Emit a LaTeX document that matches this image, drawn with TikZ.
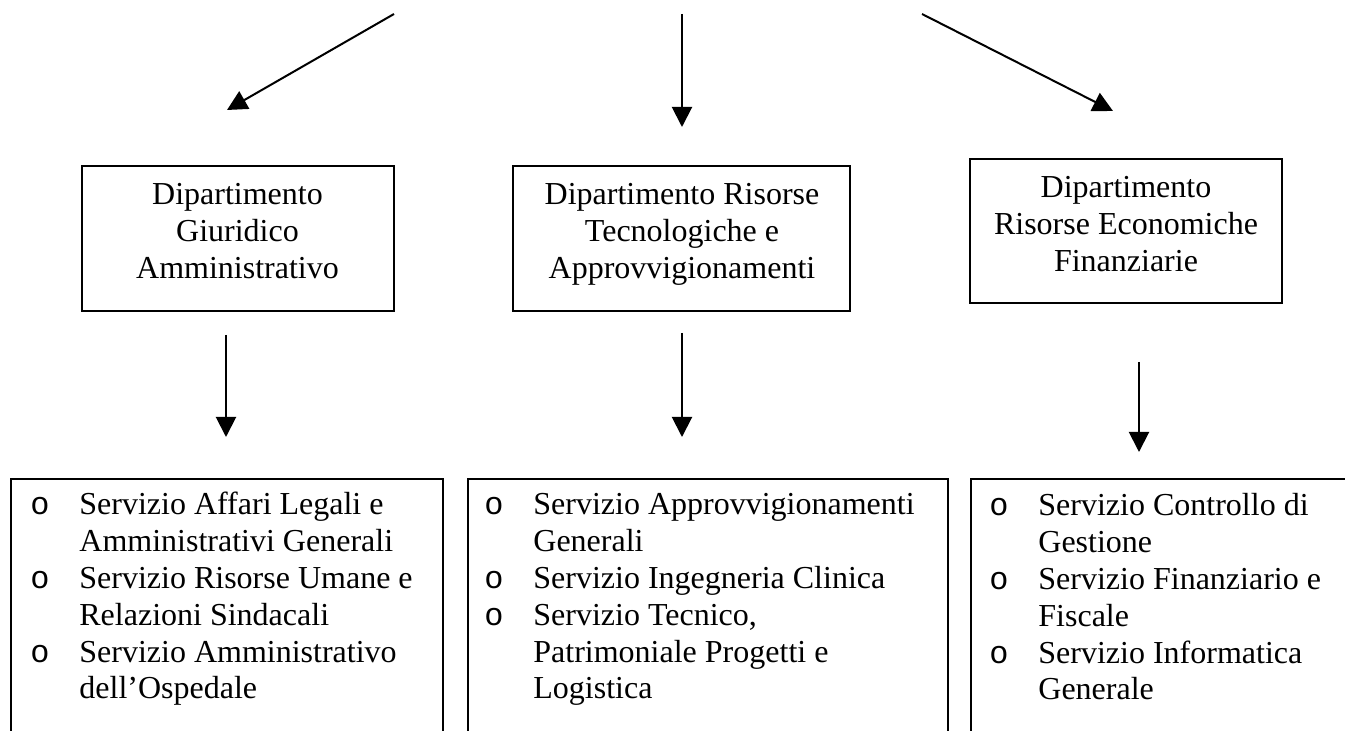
\documentclass[tikz,border=0pt]{standalone}
\usepackage{fontspec}
\setmainfont{Liberation Serif}
\newfontfamily\bulfont{Liberation Mono}
\usetikzlibrary{arrows.meta}
\tikzset{
  arr/.style={line width=1pt, -{Triangle[length=10pt,width=10pt]}},
  dbox/.style={draw, line width=1pt, rectangle, inner sep=0pt},
  lbox/.style={draw, line width=1pt, rectangle, inner sep=0pt, anchor=north west},
  txt/.style={inner sep=0pt, font=\fontsize{16pt}{18.4pt}\selectfont},
}
\newcommand\bul{\makebox[23pt][l]{\hspace*{3.25pt}\makebox[0pt]{\bulfont o}}}
\newcommand\cont{\hspace*{23pt}}
\begin{document}
\begin{tikzpicture}[x=0.5pt,y=-0.5pt]
\useasboundingbox (0,0) rectangle (1345,731);
\clip (0,0) rectangle (1345,731);
% department boxes
\node[dbox, minimum width=312*0.5pt, minimum height=145*0.5pt] (d1) at (238,238.5) {};
\node[dbox, minimum width=337*0.5pt, minimum height=145*0.5pt] (d2) at (681.5,238.5) {};
\node[dbox, minimum width=312*0.5pt, minimum height=144*0.5pt] (d3) at (1126,231) {};
\node[txt, anchor=base] (d1t) at (237.5,205) {\begin{tabular}[t]{@{}c@{}}Dipartimento\\Giuridico\\Amministrativo\end{tabular}};
\node[txt, anchor=base] (d2t) at (682,205) {\begin{tabular}[t]{@{}c@{}}Dipartimento Risorse\\Tecnologiche e\\Approvvigionamenti\end{tabular}};
\node[txt, anchor=base] (d3t) at (1126,198) {\begin{tabular}[t]{@{}c@{}}Dipartimento\\Risorse Economiche\\Finanziarie\end{tabular}};
% service boxes
\node[lbox, minimum width=432*0.5pt, minimum height=300*0.5pt] (s1) at (10,478) {};
\node[lbox, minimum width=480*0.5pt, minimum height=300*0.5pt] (s2) at (467,478) {};
\node[lbox, minimum width=420*0.5pt, minimum height=300*0.5pt] (s3) at (970,478) {};
\node[txt, anchor=base west] (s1t) at (33,515) {\begin{tabular}[t]{@{}l@{}}
\bul Servizio Affari Legali e\\
\cont Amministrativi Generali\\
\bul Servizio Risorse Umane e\\
\cont Relazioni Sindacali\\
\bul Servizio Amministrativo\\
\cont dell’Ospedale\end{tabular}};
\node[txt, anchor=base west] (s2t) at (487,515) {\begin{tabular}[t]{@{}l@{}}
\bul Servizio Approvvigionamenti\\
\cont Generali\\
\bul Servizio Ingegneria Clinica\\
\bul Servizio Tecnico,\\
\cont Patrimoniale Progetti e\\
\cont Logistica\end{tabular}};
\node[txt, anchor=base west] (s3t) at (992,516) {\begin{tabular}[t]{@{}l@{}}
\bul Servizio Controllo di\\
\cont Gestione\\
\bul Servizio Finanziario e\\
\cont Fiscale\\
\bul Servizio Informatica\\
\cont Generale\end{tabular}};
% arrows
\coordinate (t1) at (394,14);  \coordinate (h1) at (227,110);
\coordinate (t2) at (682,14);  \coordinate (h2) at (682,127);
\coordinate (t3) at (922,14);  \coordinate (h3) at (1113,111);
\coordinate (u1) at (226,335); \coordinate (v1) at (226,437);
\coordinate (u2) at (682,333); \coordinate (v2) at (682,437);
\coordinate (u3) at (1139,362); \coordinate (v3) at (1139,452);
\draw[arr] (t1) -- (h1);
\draw[arr] (t2) -- (h2);
\draw[arr] (t3) -- (h3);
\draw[arr] (u1) -- (v1);
\draw[arr] (u2) -- (v2);
\draw[arr] (u3) -- (v3);
\end{tikzpicture}
\end{document}
